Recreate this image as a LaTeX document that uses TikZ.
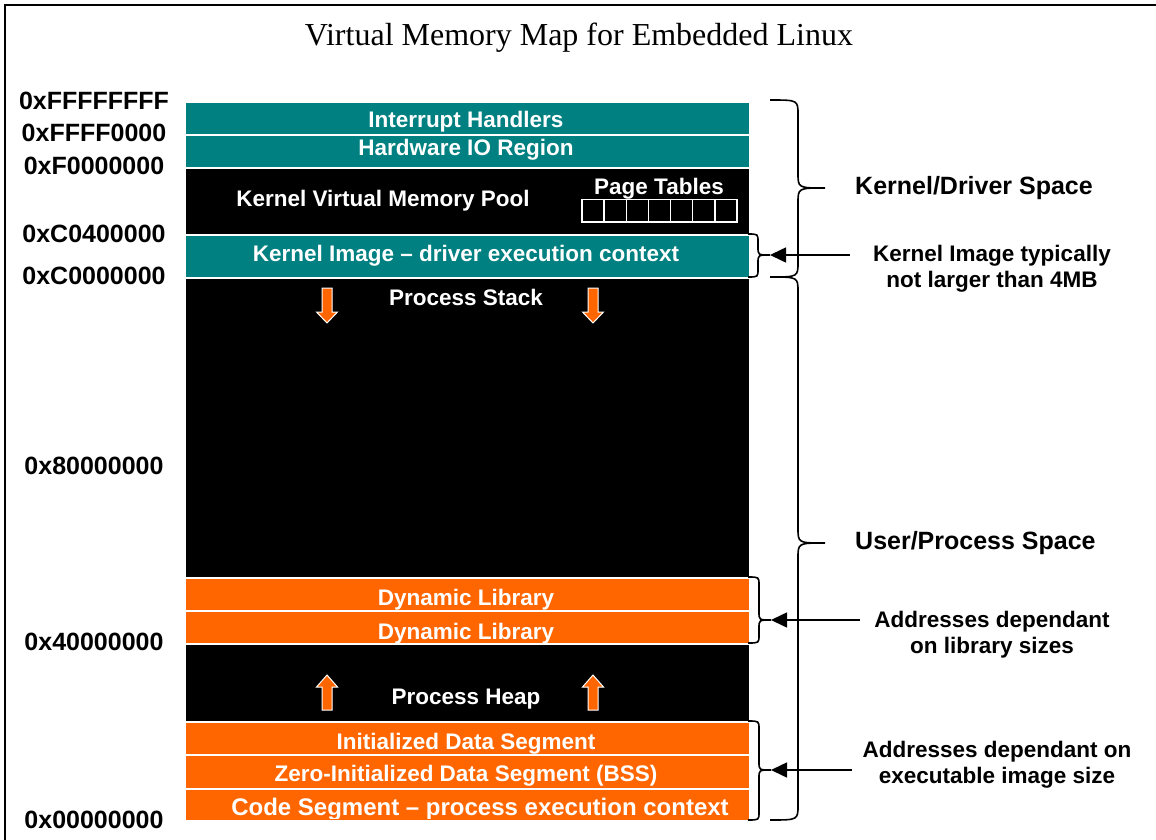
\documentclass[tikz,border=0pt]{standalone}
\usepackage{fontspec}
\setmainfont{Liberation Serif}
\newfontfamily\arialfam{Liberation Sans}
\usetikzlibrary{arrows.meta}
\definecolor{tealblk}{RGB}{0,128,128}
\definecolor{orangeblk}{RGB}{255,102,0}
\newcommand{\blkfont}{\arialfam\bfseries\fontsize{22.5}{26}\selectfont}
\newcommand{\addrfont}{\arialfam\bfseries\fontsize{25}{28}\selectfont}
\newcommand{\notefont}{\arialfam\bfseries\fontsize{22.5}{26}\selectfont}
% memory row: name, top, bottom, colour, baseline, text, [text centre x]
\newcommand{\memrow}[7][466]{%
  \node[blk, fill=#5, minimum height={#4-#3}] (#2) at (183.5,#3) {};
  \begin{scope}
    \clip (183.5,#3) rectangle (748.5,#4-1);
    \node[lbl, anchor=base] (#2txt) at (#1,#6) {#7};
  \end{scope}}
% vertical brace: x0, ytop, ybot, ymid, wing, tip, r
\newcommand{\vbrace}[7]{%
  \draw[brc] (#1,#2) .. controls (#1+#5,#2) .. (#1+#5,#2+#7)
    -- (#1+#5,#4-#7) .. controls (#1+#5,#4) .. (#1+#5+#6,#4)
    .. controls (#1+#5,#4) .. (#1+#5,#4+#7)
    -- (#1+#5,#3-#7) .. controls (#1+#5,#3) .. (#1,#3);}
\begin{document}
\begin{tikzpicture}[x=1pt,y=-1pt,
  blk/.style={draw=white, line width=2pt, minimum width=565pt, inner sep=0pt, anchor=north west},
  lbl/.style={text=white, font=\blkfont, inner sep=0pt},
  addr/.style={font=\addrfont, inner sep=0pt},
  note/.style={font=\notefont, align=center, inner sep=0pt},
  spacelbl/.style={font=\addrfont, anchor=west, inner sep=0pt},
  brc/.style={line width=1.6pt, black},
  ptr/.style={line width=1.6pt, -{Triangle[length=16pt,width=15pt]}},
  barrow/.style={fill=orangeblk, draw=white, line width=1pt, line join=miter},
  cell/.style={draw=white, line width=1.5pt, fill=black},
  downarr/.pic={\draw[barrow] (-5,0) -- (5,0) -- (5,24) -- (10.5,24) -- (0,35) -- (-10.5,24) -- (-5,24) -- cycle;},
  uparr/.pic={\draw[barrow] (-5,0) -- (5,0) -- (5,-23) -- (10.5,-23) -- (0,-35) -- (-10.5,-23) -- (-5,-23) -- cycle;}
]
\useasboundingbox[fill=white] (0,0) rectangle (1156,840);
% frame
\draw[line width=2pt] (5,840) -- (5,5) -- (1156,5);
% title
\node[font=\fontsize{32}{36}\selectfont, inner sep=0pt] (title) at (579,38) {Virtual Memory Map for Embedded Linux};

% memory column
\memrow{inth}{101}{134}{tealblk}{128}{Interrupt Handlers}
\memrow{hwio}{134}{166.5}{tealblk}{155}{Hardware IO Region}
\node[blk, fill=black, minimum height=67pt] (pool) at (183.5,166.5) {};
\node[lbl, anchor=base] (pooltxt) at (383,206) {Kernel Virtual Memory Pool};
\node[lbl, anchor=base] (pttxt) at (659,194) {Page Tables};
\foreach \i in {0,...,6}
  \draw[cell] (582+\i*22.14,199.5) rectangle ++(22.14,22.5);
\memrow{kimg}{233.5}{277}{tealblk}{261}{Kernel Image – driver execution context}
\node[blk, fill=black, minimum height=300pt] (stack) at (183.5,277) {};
\node[lbl, anchor=base] (stacktxt) at (466,305) {Process Stack};
\pic at (327,288) {downarr};
\pic at (593,288) {downarr};
\memrow{dlib1}{577}{610}{orangeblk}{605}{Dynamic Library}
\memrow{dlib2}{610}{643}{orangeblk}{639}{Dynamic Library}
\node[blk, fill=black, minimum height=78pt] (heap) at (183.5,643) {};
\node[lbl, anchor=base] (heaptxt) at (466,704) {Process Heap};
\pic at (327,710) {uparr};
\pic at (593,710) {uparr};
\memrow{init}{721}{754}{orangeblk}{749.5}{Initialized Data Segment}
\memrow{zero}{754}{787.5}{orangeblk}{781.5}{Zero-Initialized Data Segment (BSS)}
\memrow[480]{code}{787.5}{819.5}{orangeblk}{815}{\fontsize{24}{26}\selectfont Code Segment – process execution context}

% addresses
\node[addr] (a1) at (94,101) {0xFFFFFFFF};
\node[addr] (a2) at (94,133) {0xFFFF0000};
\node[addr] (a3) at (94,166) {0xF0000000};
\node[addr] (a4) at (94,234) {0xC0400000};
\node[addr] (a5) at (94,276) {0xC0000000};
\node[addr] (a6) at (94,466) {0x80000000};
\node[addr] (a7) at (94,642) {0x40000000};
\node[addr] (a8) at (94,820) {0x00000000};

% big braces
\vbrace{770}{100}{277}{188}{28}{27}{15}
\vbrace{770}{277}{820}{543}{28}{27}{15}
\node[spacelbl] (kspace) at (855,188) {Kernel/Driver Space};
\node[spacelbl] (uspace) at (855,543) {User/Process Space};

% small braces with notes
\vbrace{748}{234}{277}{255}{10}{12}{8}
\vbrace{748}{577}{643}{620}{11}{12}{8}
\vbrace{748}{721}{820}{770}{11}{12}{8}
\coordinate (kimgtip) at (770,255);
\coordinate (kimgfrom) at (850,255);
\coordinate (dlibtip) at (771,620);
\coordinate (dlibfrom) at (860,620);
\coordinate (datatip) at (771,770);
\coordinate (datafrom) at (852,770);
\draw[ptr] (kimgfrom) -- (kimgtip);
\draw[ptr] (dlibfrom) -- (dlibtip);
\draw[ptr] (datafrom) -- (datatip);
\node[note] (kimgnote) at (992,269) {Kernel Image typically\\not larger than 4MB};
\node[note] (dlibnote) at (992,635) {Addresses dependant\\on library sizes};
\node[note] (datanote) at (997,765) {Addresses dependant on\\executable image size};
\end{tikzpicture}
\end{document}
